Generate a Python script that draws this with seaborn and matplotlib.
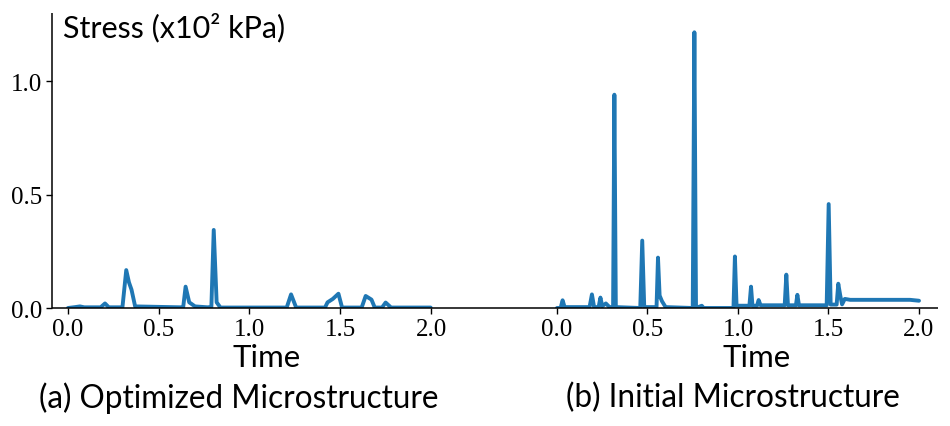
import pandas as pd
import numpy as np
import seaborn as sns
import matplotlib.pyplot as plt

# Data (time, stress in x10^2 kPa)
opt_time = [0.0, 0.04, 0.066, 0.09, 0.18, 0.204, 0.225, 0.30, 0.321, 0.336, 0.35, 0.37,
            0.62, 0.635, 0.648, 0.668, 0.70, 0.77, 0.79, 0.803, 0.819, 0.84,
            1.205, 1.229, 1.257, 1.416, 1.43, 1.459, 1.49, 1.51,
            1.618, 1.64, 1.672, 1.69, 1.73, 1.75, 1.78, 1.998]
opt_stress = [0.0, 0.004, 0.007, 0.003, 0.003, 0.02, 0.003, 0.003, 0.167, 0.113, 0.081, 0.007,
              0.003, 0.005, 0.094, 0.025, 0.007, 0.003, 0.005, 0.344, 0.025, 0.002,
              0.002, 0.06, 0.002, 0.002, 0.025, 0.04, 0.063, 0.002,
              0.002, 0.053, 0.037, 0.002, 0.002, 0.024, 0.002, 0.002]

init_time = [0.0, 0.02, 0.031, 0.042, 0.18, 0.193, 0.205, 0.23, 0.24, 0.25, 0.27, 0.29,
             0.31, 0.317, 0.325, 0.46, 0.471, 0.482, 0.55, 0.558, 0.567, 0.58, 0.60,
             0.75, 0.759, 0.768, 0.80, 0.81, 0.975, 0.983, 0.992, 1.063, 1.072, 1.08,
             1.105, 1.114, 1.125, 1.258, 1.267, 1.276, 1.32, 1.328, 1.337,
             1.49, 1.501, 1.512, 1.545, 1.554, 1.565, 1.575, 1.59, 1.62, 1.95, 2.0]
init_stress = [0.0, 0.0, 0.034, 0.004, 0.004, 0.06, 0.004, 0.004, 0.046, 0.008, 0.02, 0.004,
               0.004, 0.94, 0.004, 0.0, 0.297, 0.004, 0.004, 0.222, 0.055, 0.03, 0.004,
               0.0, 1.215, 0.0, 0.01, 0.0, 0.0, 0.227, 0.01, 0.01, 0.094, 0.01,
               0.01, 0.035, 0.012, 0.012, 0.147, 0.012, 0.012, 0.058, 0.012,
               0.012, 0.458, 0.015, 0.015, 0.107, 0.055, 0.016, 0.04, 0.036, 0.036, 0.032]

x_ticks = [0.0, 0.5, 1.0, 1.5, 2.0]
y_ticks = [0.0, 0.5, 1.0]
captions = ["(a) Optimized Microstructure", "(b) Initial Microstructure"]

sns.set_style("ticks")
plt.rcParams["font.family"] = ["Lato", "DejaVu Sans"]
plt.rcParams["text.color"] = "black"

line_color = "#1f77b4"
sans = ["Lato", "DejaVu Sans"]
serif = ["Liberation Serif", "DejaVu Serif"]

fig = plt.figure(figsize=(9.5, 4.27), dpi=100)
W, H = 950, 427


def px_axes(x0, x1, y0, y1):
    return fig.add_axes([x0 / W, (H - y1) / H, (x1 - x0) / W, (y1 - y0) / H])


ax_a = px_axes(52, 494, 14, 309)
ax_b = px_axes(494, 938, 14, 309)

df_a = pd.DataFrame({"Time": opt_time, "Stress": opt_stress})
df_b = pd.DataFrame({"Time": init_time, "Stress": init_stress})

sns.lineplot(data=df_a, x="Time", y="Stress", ax=ax_a, color=line_color,
             linewidth=2.8, sort=False, estimator=None)
sns.lineplot(data=df_b, x="Time", y="Stress", ax=ax_b, color=line_color,
             linewidth=2.8, sort=False, estimator=None)

ax_a.set_xlim(-0.088, 2.347)
ax_b.set_xlim(-0.348, 2.105)
for ax in (ax_a, ax_b):
    ax.set_ylim(0, 1.30)
    ax.set_xticks(x_ticks)
    ax.set_xticklabels([f"{t:.1f}" for t in x_ticks], fontfamily=serif, fontsize=18)
    ax.set_xlabel("")
    ax.set_ylabel("")
    ax.spines["top"].set_visible(False)
    ax.spines["right"].set_visible(False)
    ax.tick_params(axis="both", length=4, width=1, colors="black", pad=3)
    for s in ax.spines.values():
        s.set_linewidth(1.1)
        s.set_color("black")
        s.set_capstyle("butt")

ax_a.set_yticks(y_ticks)
ax_a.set_yticklabels([f"{v:.1f}" for v in y_ticks], fontfamily=serif, fontsize=18)
ax_b.spines["left"].set_visible(False)
ax_b.set_yticks([])
ax_b.tick_params(axis="y", left=False)

fig.text(63 / W, 1 - 28 / H, "Stress (x10² kPa)", ha="left", va="center",
         fontsize=22, fontfamily=sans)

fig.text(267 / W, 1 - 358 / H, "Time", ha="center", va="center", fontsize=22.5, fontfamily=sans)
fig.text(757 / W, 1 - 358 / H, "Time", ha="center", va="center", fontsize=22.5, fontfamily=sans)
fig.text(239 / W, 1 - 398 / H, captions[0], ha="center", va="center", fontsize=22.7, fontfamily=sans)
fig.text(733 / W, 1 - 398 / H, captions[1], ha="center", va="center", fontsize=22.7, fontfamily=sans)

plt.savefig("out.png", dpi=100)
plt.close()
